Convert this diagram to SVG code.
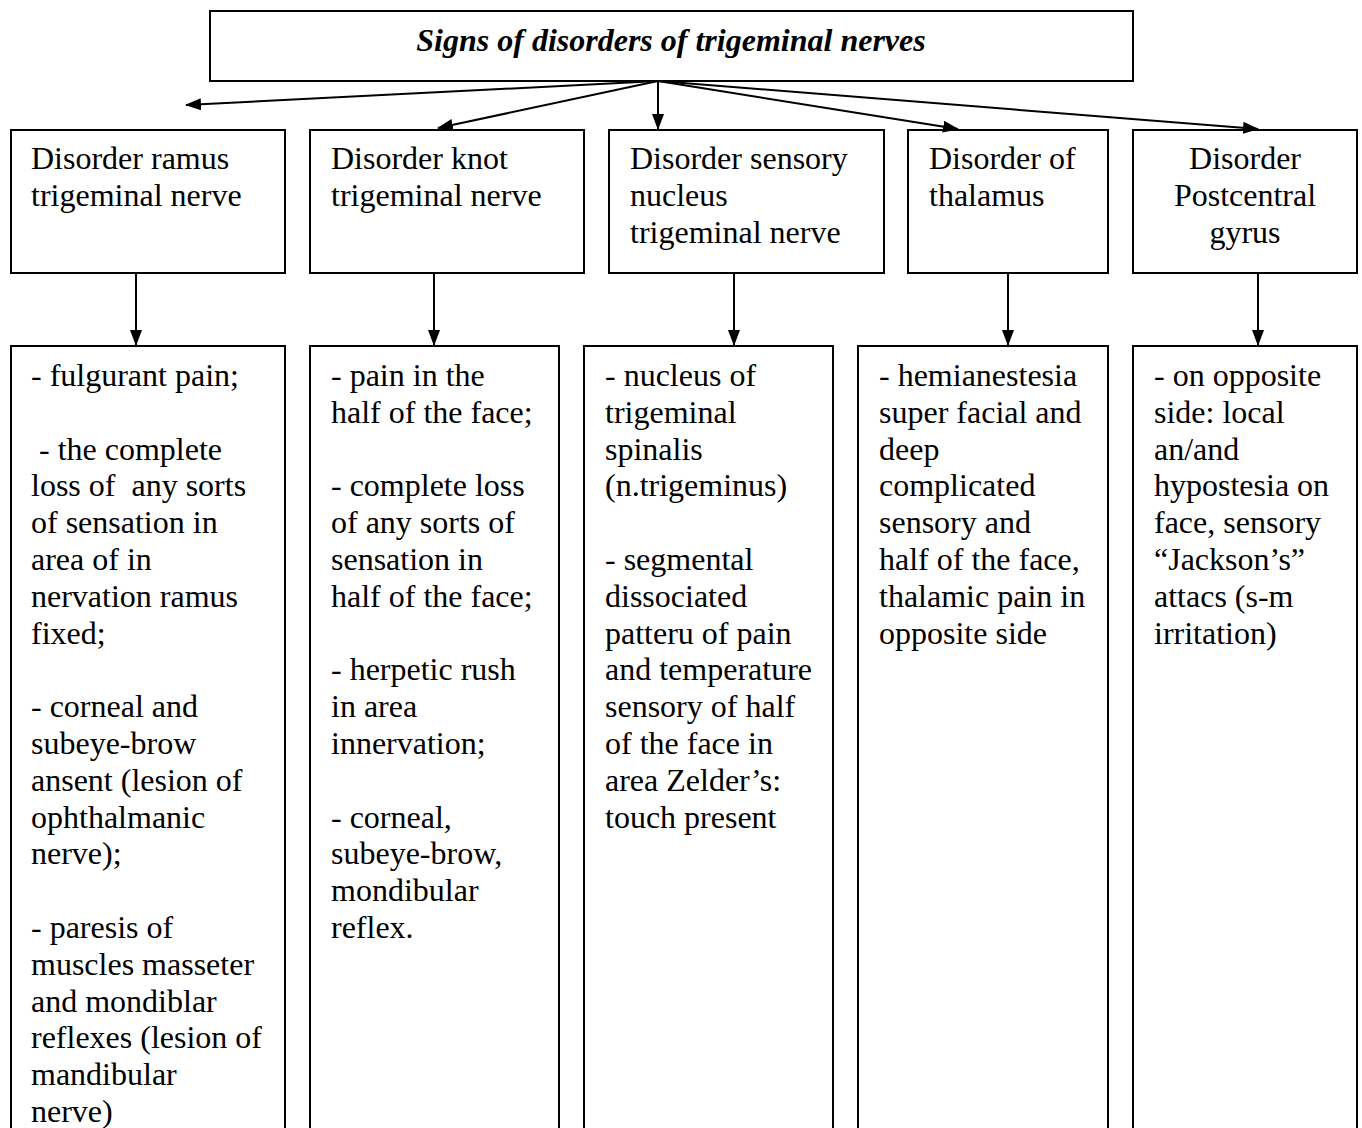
<svg xmlns="http://www.w3.org/2000/svg" width="1362" height="1128" viewBox="0 0 1362 1128">
  <style>
    .box { fill: #fff; stroke: #000; stroke-width: 2; }
    .t { font-family: "Liberation Serif", "Times New Roman", serif; font-size: 32px; fill: #000; }
    .title { font-weight: bold; font-style: italic; }
    .conn { stroke: #000; stroke-width: 2; fill: none; marker-end: url(#arrow); }
  </style>
  <defs>
    <marker id="arrow" markerWidth="16" markerHeight="12" refX="15" refY="6" orient="auto" markerUnits="userSpaceOnUse">
      <path d="M0,0 L16,6 L0,12 Z" fill="#000"/>
    </marker>
  </defs>
  <rect width="1362" height="1128" fill="#fff"/>

  <!-- top heading -->
  <g id="title">
    <rect class="box" x="210" y="11" width="923" height="70"/>
    <text class="t title" x="671" y="51" text-anchor="middle">Signs of disorders of trigeminal nerves</text>
  </g>

  <!-- level-two headings -->
  <g id="h-ramus">
    <rect class="box" x="11" y="130" width="274" height="143"/>
    <text class="t"><tspan x="31" y="169">Disorder ramus</tspan><tspan x="31" y="206">trigeminal nerve</tspan></text>
  </g>
  <g id="h-knot">
    <rect class="box" x="310" y="130" width="274" height="143"/>
    <text class="t"><tspan x="331" y="169">Disorder knot</tspan><tspan x="331" y="206">trigeminal nerve</tspan></text>
  </g>
  <g id="h-nucleus">
    <rect class="box" x="609" y="130" width="275" height="143"/>
    <text class="t"><tspan x="630" y="169">Disorder sensory</tspan><tspan x="630" y="206">nucleus</tspan><tspan x="630" y="243">trigeminal nerve</tspan></text>
  </g>
  <g id="h-thalamus">
    <rect class="box" x="908" y="130" width="200" height="143"/>
    <text class="t"><tspan x="929" y="169">Disorder of</tspan><tspan x="929" y="206">thalamus</tspan></text>
  </g>
  <g id="h-gyrus">
    <rect class="box" x="1133" y="130" width="224" height="143"/>
    <text class="t" text-anchor="middle"><tspan x="1245" y="169">Disorder</tspan><tspan x="1245" y="206">Postcentral</tspan><tspan x="1245" y="243">gyrus</tspan></text>
  </g>

  <!-- symptom columns (run past the lower edge) -->
  <g id="s-ramus">
    <rect class="box" x="11" y="346" width="274" height="800"/>
    <text class="t">
      <tspan x="31" y="386">- fulgurant pain;</tspan>
      <tspan x="39" y="459.6">- the complete</tspan>
      <tspan x="31" y="496.4">loss of&#160; any sorts</tspan>
      <tspan x="31" y="533.2">of sensation in</tspan>
      <tspan x="31" y="570">area of in</tspan>
      <tspan x="31" y="606.8">nervation ramus</tspan>
      <tspan x="31" y="643.6">fixed;</tspan>
      <tspan x="31" y="717.2">- corneal and</tspan>
      <tspan x="31" y="754">subeye-brow</tspan>
      <tspan x="31" y="790.8">ansent (lesion of</tspan>
      <tspan x="31" y="827.6">ophthalmanic</tspan>
      <tspan x="31" y="864.4">nerve);</tspan>
      <tspan x="31" y="938">- paresis of</tspan>
      <tspan x="31" y="974.8">muscles masseter</tspan>
      <tspan x="31" y="1011.6">and mondiblar</tspan>
      <tspan x="31" y="1048.4">reflexes (lesion of</tspan>
      <tspan x="31" y="1085.2">mandibular</tspan>
      <tspan x="31" y="1122">nerve)</tspan>
    </text>
  </g>
  <g id="s-knot">
    <rect class="box" x="310" y="346" width="249" height="800"/>
    <text class="t">
      <tspan x="331" y="386">- pain in the</tspan>
      <tspan x="331" y="422.8">half of the face;</tspan>
      <tspan x="331" y="496.4">- complete loss</tspan>
      <tspan x="331" y="533.2">of any sorts of</tspan>
      <tspan x="331" y="570">sensation in</tspan>
      <tspan x="331" y="606.8">half of the face;</tspan>
      <tspan x="331" y="680.4">- herpetic rush</tspan>
      <tspan x="331" y="717.2">in area</tspan>
      <tspan x="331" y="754">innervation;</tspan>
      <tspan x="331" y="827.6">- corneal,</tspan>
      <tspan x="331" y="864.4">subeye-brow,</tspan>
      <tspan x="331" y="901.2">mondibular</tspan>
      <tspan x="331" y="938">reflex.</tspan>
    </text>
  </g>
  <g id="s-nucleus">
    <rect class="box" x="584" y="346" width="249" height="800"/>
    <text class="t">
      <tspan x="605" y="386">- nucleus of</tspan>
      <tspan x="605" y="422.8">trigeminal</tspan>
      <tspan x="605" y="459.6">spinalis</tspan>
      <tspan x="605" y="496.4">(n.trigeminus)</tspan>
      <tspan x="605" y="570">- segmental</tspan>
      <tspan x="605" y="606.8">dissociated</tspan>
      <tspan x="605" y="643.6">patteru of pain</tspan>
      <tspan x="605" y="680.4">and temperature</tspan>
      <tspan x="605" y="717.2">sensory of half</tspan>
      <tspan x="605" y="754">of the face in</tspan>
      <tspan x="605" y="790.8">area Zelder’s:</tspan>
      <tspan x="605" y="827.6">touch present</tspan>
    </text>
  </g>
  <g id="s-thalamus">
    <rect class="box" x="858" y="346" width="250" height="800"/>
    <text class="t">
      <tspan x="879" y="386">- hemianestesia</tspan>
      <tspan x="879" y="422.8">super facial and</tspan>
      <tspan x="879" y="459.6">deep</tspan>
      <tspan x="879" y="496.4">complicated</tspan>
      <tspan x="879" y="533.2">sensory and</tspan>
      <tspan x="879" y="570">half of the face,</tspan>
      <tspan x="879" y="606.8">thalamic pain in</tspan>
      <tspan x="879" y="643.6">opposite side</tspan>
    </text>
  </g>
  <g id="s-gyrus">
    <rect class="box" x="1133" y="346" width="224" height="800"/>
    <text class="t">
      <tspan x="1154" y="386">- on opposite</tspan>
      <tspan x="1154" y="422.8">side: local</tspan>
      <tspan x="1154" y="459.6">an/and</tspan>
      <tspan x="1154" y="496.4">hypostesia on</tspan>
      <tspan x="1154" y="533.2">face, sensory</tspan>
      <tspan x="1154" y="570">“Jackson’s”</tspan>
      <tspan x="1154" y="606.8">attacs (s-m</tspan>
      <tspan x="1154" y="643.6">irritation)</tspan>
    </text>
  </g>

  <!-- connectors -->
  <g id="connectors">
    <line class="conn" x1="658" y1="81" x2="186" y2="105"/>
    <line class="conn" x1="658" y1="81" x2="438" y2="128"/>
    <line class="conn" x1="658" y1="81" x2="658" y2="129"/>
    <line class="conn" x1="658" y1="81" x2="958" y2="129"/>
    <line class="conn" x1="658" y1="81" x2="1258" y2="129"/>
    <line class="conn" x1="136" y1="273" x2="136" y2="345"/>
    <line class="conn" x1="434" y1="273" x2="434" y2="345"/>
    <line class="conn" x1="734" y1="273" x2="734" y2="345"/>
    <line class="conn" x1="1008" y1="273" x2="1008" y2="345"/>
    <line class="conn" x1="1258" y1="273" x2="1258" y2="345"/>
  </g>
</svg>
